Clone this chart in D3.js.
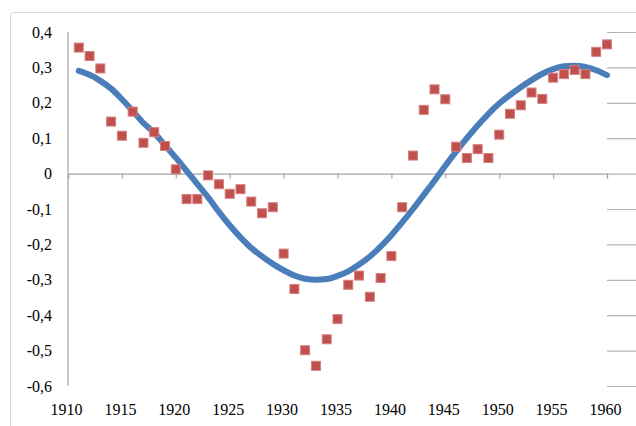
<!DOCTYPE html>
<html>
<head>
<meta charset="utf-8">
<script src="https://cdn.jsdelivr.net/npm/d3@7"></script>
<style>
  body { margin: 0; background: #fff; }
</style>
</head>
<body>
<svg id="chart"></svg>
<script>
// observed values (red squares), one per year
const years = d3.range(1911, 1961);
const observed = [
  0.356, 0.332, 0.297, 0.147, 0.107, 0.175, 0.087, 0.117, 0.078, 0.012,
  -0.072, -0.072, -0.005, -0.030, -0.057, -0.044, -0.079, -0.112, -0.095, -0.226,
  -0.326, -0.499, -0.543, -0.468, -0.411, -0.314, -0.288, -0.348, -0.295, -0.233,
  -0.095, 0.051, 0.180, 0.238, 0.210, 0.076, 0.044, 0.069, 0.044, 0.110,
  0.169, 0.193, 0.229, 0.211, 0.271, 0.281, 0.293, 0.281, 0.344, 0.365
];
// fitted curve (blue line), read at each year
const fitted = [
  0.290, 0.279, 0.262, 0.240, 0.210, 0.177, 0.143, 0.115, 0.080, 0.045,
  0.008, -0.030, -0.067, -0.108, -0.146, -0.180, -0.210, -0.234, -0.255, -0.273,
  -0.288, -0.297, -0.300, -0.298, -0.289, -0.276, -0.257, -0.234, -0.206, -0.174,
  -0.138, -0.100, -0.060, -0.020, 0.022, 0.062, 0.100, 0.136, 0.169, 0.198,
  0.222, 0.244, 0.264, 0.282, 0.295, 0.303, 0.305, 0.301, 0.292, 0.278
];
const xTicks = d3.range(1910, 1961, 5);
const yTicks = [0.4, 0.3, 0.2, 0.1, 0, -0.1, -0.2, -0.3, -0.4, -0.5, -0.6];

const width = 636, height = 426;
const plot = { left: 68, right: 607, top: 32, bottom: 386 };

const svg = d3.select("#chart").attr("width", width).attr("height", height);

// outer chart frame
svg.append("rect")
  .attr("x", 10.5).attr("y", 12.5)
  .attr("width", 650).attr("height", 440)
  .attr("rx", 3)
  .attr("fill", "none")
  .attr("stroke", "#d9d9d9");

const xScale = d3.scaleLinear().domain([1910, 1960]).range([plot.left, plot.right]);
const yScale = d3.scaleLinear().domain([-0.6, 0.4]).range([plot.bottom, plot.top]);

const fmt = d => d === 0 ? "0" : d3.format(".1f")(d).replace(".", ",").replace("−", "-");

// horizontal gridlines with small ticks on the left
const yAxis = d3.axisLeft(yScale)
  .tickValues(yTicks)
  .tickSize(-(plot.right - plot.left) - 6)
  .tickFormat("");

svg.append("g")
  .attr("transform", `translate(${plot.right},0)`)
  .call(yAxis)
  .call(g => g.select(".domain").remove())
  .call(g => g.selectAll(".tick line").attr("stroke", "#b5b5b5").attr("stroke-width", 1.2));

// y labels
svg.append("g").selectAll("text")
  .data(yTicks)
  .join("text")
  .attr("x", 52)
  .attr("y", d => yScale(d))
  .attr("dy", "0.35em")
  .attr("text-anchor", "end")
  .style("font-family", "Liberation Serif")
  .style("font-size", "16px")
  .style("fill", "#000")
  .text(fmt);

// vertical axis line
svg.append("line")
  .attr("x1", plot.left).attr("x2", plot.left)
  .attr("y1", plot.top).attr("y2", plot.bottom)
  .attr("stroke", "#a6a6a6").attr("stroke-width", 1.2);

// horizontal axis crosses at 0
const xAxis = d3.axisBottom(xScale).tickValues(xTicks).tickSize(5).tickFormat("");
svg.append("g")
  .attr("transform", `translate(0,${yScale(0)})`)
  .call(xAxis)
  .call(g => g.select(".domain").attr("stroke", "#a6a6a6").attr("stroke-width", 1.2))
  .call(g => g.selectAll(".tick line").attr("stroke", "#a6a6a6").attr("stroke-width", 1.2));

// x labels sit at the bottom of the plot
svg.append("g").selectAll("text")
  .data(xTicks)
  .join("text")
  .attr("x", d => xScale(d) - 1.5)
  .attr("y", 415)
  .attr("text-anchor", "middle")
  .style("font-family", "Liberation Serif")
  .style("font-size", "16px")
  .style("fill", "#000")
  .text(d => d);

// fitted curve
const line = d3.line()
  .x((d, i) => xScale(years[i]))
  .y(d => yScale(d))
  .curve(d3.curveMonotoneX);

svg.append("path")
  .datum(fitted)
  .attr("d", line)
  .attr("fill", "none")
  .attr("stroke", "#4a7ebb")
  .attr("stroke-width", 6)
  .attr("stroke-linecap", "round")
  .attr("stroke-linejoin", "round");

// observed squares
const size = 9;
svg.append("g").selectAll("rect")
  .data(observed)
  .join("rect")
  .attr("x", (d, i) => xScale(years[i]) - size / 2)
  .attr("y", d => yScale(d) - size / 2)
  .attr("width", size)
  .attr("height", size)
  .attr("fill", "#c0504d")
  .attr("stroke", "#d4807e")
  .attr("stroke-width", 1);
</script>
</body>
</html>
